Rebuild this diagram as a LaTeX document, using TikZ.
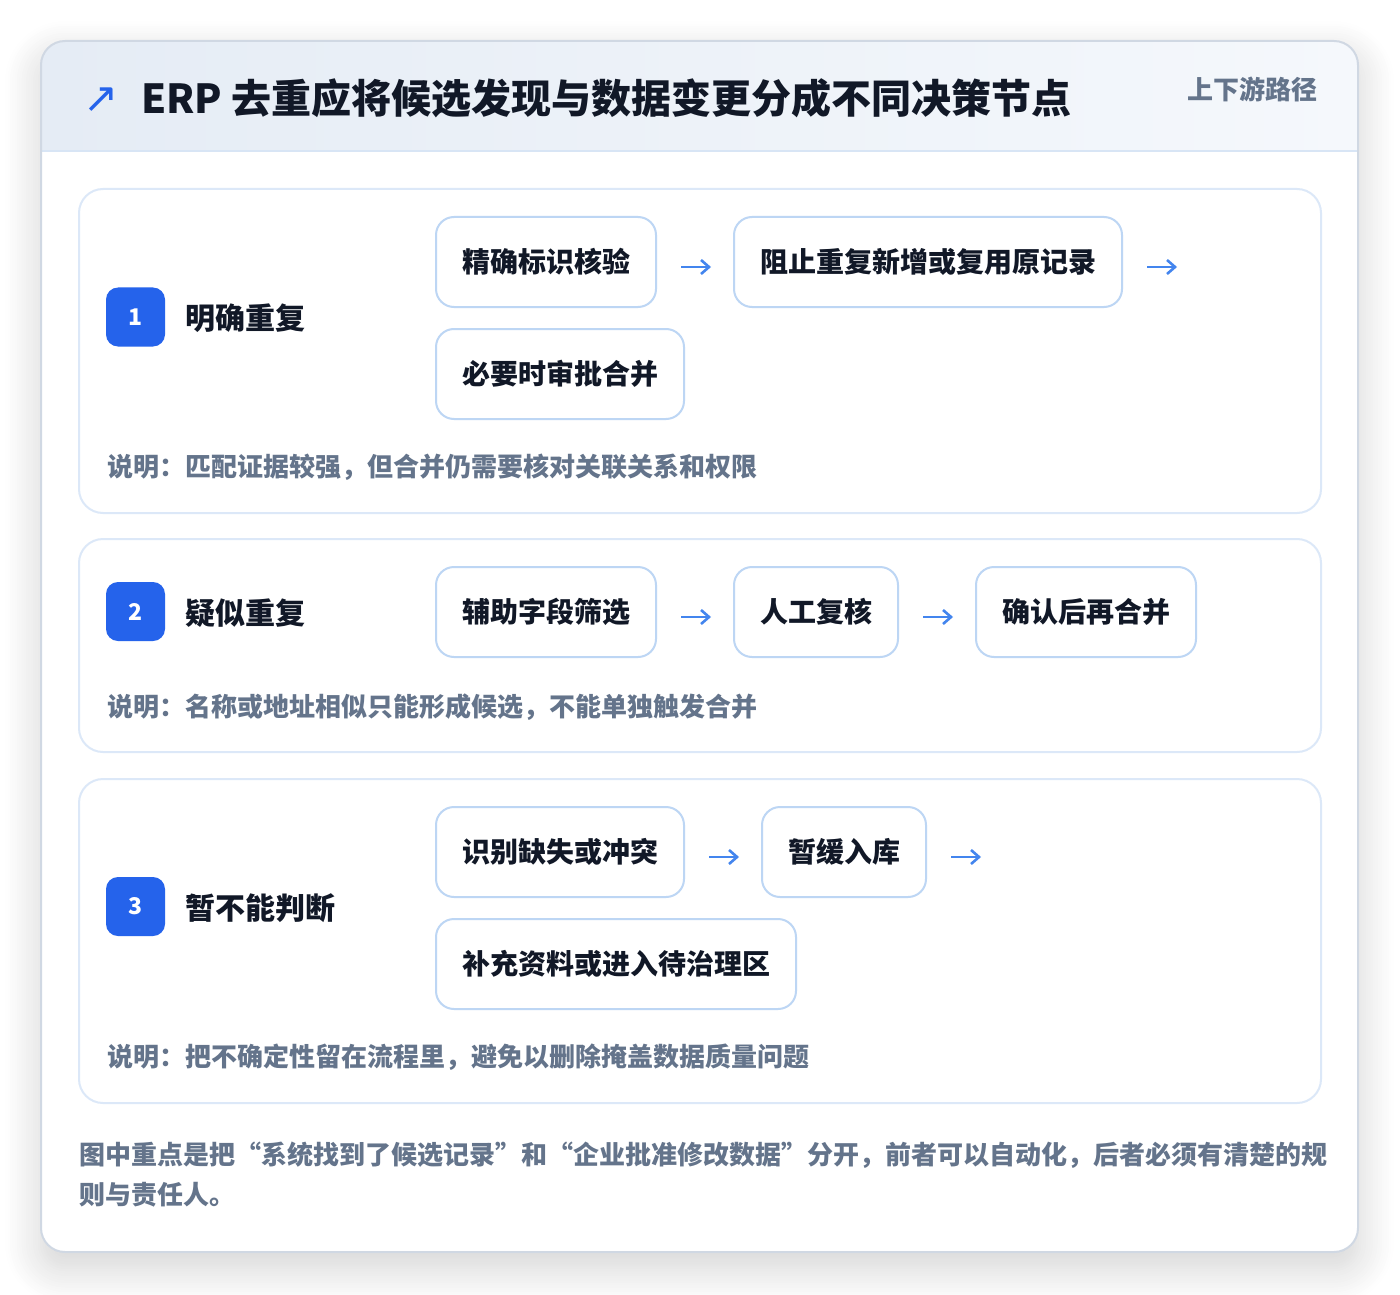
\documentclass[tikz,border=0pt]{standalone}
\usepackage{fontspec}
\setmainfont{Noto Sans CJK SC}
\newfontfamily\symfont{DejaVu Sans}
\usepackage{tikz}
\usetikzlibrary{positioning, arrows.meta, shadows.blur}

\definecolor{ink}{HTML}{111827}
\definecolor{muted}{HTML}{64748B}
\definecolor{badgeblue}{HTML}{2563EB}
\definecolor{arrowblue}{HTML}{4385EE}
\definecolor{cardline}{HTML}{D0D8E3}
\definecolor{headl}{HTML}{E5ECF5}
\definecolor{headr}{HTML}{F5F8FC}
\definecolor{headline}{HTML}{D8E5F5}
\definecolor{panelline}{HTML}{DCE8F8}
\definecolor{boxline}{HTML}{BDD6F4}

\begin{document}
\begin{tikzpicture}[x=0.5pt, y=-0.5pt,
    every node/.style={inner sep=0pt, font=\bfseries}]

    \tikzstyle{panel}=[draw=panelline, line width=1pt, fill=white, rounded corners=12pt]
    \tikzstyle{stepbox}=[draw=boxline, line width=1pt, fill=white, rounded corners=9pt, minimum height=45pt, inner xsep=13pt, text=ink, font=\fontsize{14pt}{16pt}\bfseries]
    \tikzstyle{badge}=[fill=badgeblue, rounded corners=6pt, minimum size=29.5pt, text=white, font=\fontsize{11.5pt}{12pt}\bfseries]
    \tikzstyle{rowlabel}=[anchor=west, text=ink, font=\fontsize{15pt}{18pt}\bfseries]
    \tikzstyle{note}=[anchor=west, text=muted, font=\fontsize{13pt}{16pt}\bfseries]
    \tikzstyle{flow}=[draw=arrowblue, line width=1.3pt, -{Straight Barb[length=4pt, width=7pt]}]

    \useasboundingbox (0,0) rectangle (1400,1294);

    % card and header band
    \path[fill=white, rounded corners=12pt, blur shadow={shadow xshift=0pt, shadow yshift=-8pt, shadow blur radius=18pt, shadow blur steps=16, shadow opacity=18}] (41,41) rectangle (1358,1252);
    \begin{scope}
        \clip[rounded corners=12pt] (41,41) rectangle (1358,1252);
        \shade[left color=headl, right color=headr] (41,41) rectangle (1358,151);
    \end{scope}
    \draw[headline, line width=1pt] (41,151) -- (1358,151);
    \draw[cardline, line width=1pt, rounded corners=12pt] (41,41) rectangle (1358,1252);

    \node[text=badgeblue, font=\symfont\fontsize{21pt}{22pt}\selectfont] (icon) at (101,100) {↗};
    \node[anchor=west, text=ink, font=\fontsize{20pt}{24pt}\bfseries] (title) at (141,98) {ERP 去重应将候选发现与数据变更分成不同决策节点};
    \node[anchor=east, text=muted, font=\fontsize{13pt}{16pt}\bfseries] (path) at (1318,89) {上下游路径};

    % panels
    \path[panel] (79,189) rectangle (1321,513);
    \path[panel] (79,539) rectangle (1321,752);
    \path[panel] (79,779) rectangle (1321,1103);

    % row 1
    \node[badge] (n1) at (135.5,317) {1};
    \node[rowlabel] (l1) at (185,318) {明确重复};
    \node[stepbox, anchor=west] (b11) at (435,262) {精确标识核验};
    \node[stepbox, right=38pt of b11] (b12) {阻止重复新增或复用原记录};
    \node[stepbox, below=10pt of b11.south west, anchor=north west] (b13) {必要时审批合并};
    \node[note] (c1) at (107,467) {说明：匹配证据较强，但合并仍需要核对关联关系和权限};

    % row 2
    \node[badge] (n2) at (135.5,611.5) {2};
    \node[rowlabel] (l2) at (185,613) {疑似重复};
    \node[stepbox, anchor=west] (b21) at (435,612) {辅助字段筛选};
    \node[stepbox, right=38pt of b21] (b22) {人工复核};
    \node[stepbox, right=38pt of b22] (b23) {确认后再合并};
    \node[note] (c2) at (107,707) {说明：名称或地址相似只能形成候选，不能单独触发合并};

    % row 3
    \node[badge] (n3) at (135.5,906.5) {3};
    \node[rowlabel] (l3) at (185,908) {暂不能判断};
    \node[stepbox, anchor=west] (b31) at (435,852) {识别缺失或冲突};
    \node[stepbox, right=38pt of b31] (b32) {暂缓入库};
    \node[stepbox, below=10pt of b31.south west, anchor=north west] (b33) {补充资料或进入待治理区};
    \node[note] (c3) at (107,1057) {说明：把不确定性留在流程里，避免以删除掩盖数据质量问题};

    % arrows after boxes
    \foreach \b in {b11,b12,b21,b22,b31,b32} {
        \coordinate (\b s) at ([xshift=12pt, yshift=-2.5pt]\b.east);
        \coordinate (\b e) at ([xshift=15pt]\b s);
        \draw[flow] (\b s) -- (\b e);
    }

    \node[anchor=west, align=left, text=muted, font=\fontsize{13pt}{20pt}\bfseries] (summary) at (79,1175) {图中重点是把“系统找到了候选记录”和“企业批准修改数据”分开，前者可以自动化，后者必须有清楚的规\\则与责任人。};

\end{tikzpicture}
\end{document}
